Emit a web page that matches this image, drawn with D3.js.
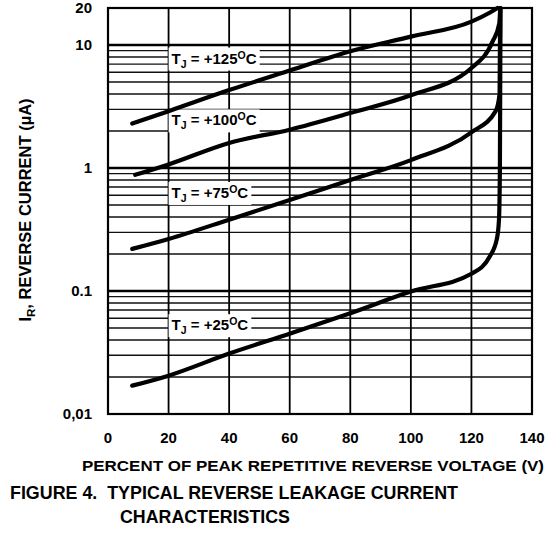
<!DOCTYPE html>
<html>
<head>
<meta charset="utf-8">
<script src="https://cdn.jsdelivr.net/npm/d3@7"></script>
<style>
  body { margin: 0; background: #fff; }
  text { font-family: "Liberation Sans", Arial, sans-serif; font-weight: bold; fill: #000; }
</style>
</head>
<body>
<svg id="chart" width="559" height="533"></svg>
<script>
// x ticks and y ticks
const xTicks = [0, 20, 40, 60, 80, 100, 120, 140];
const yTicks = [0.01, 0.1, 1, 10, 20];
const yTickLabels = ["0,01", "0.1", "1", "10", "20"];

// percent of peak voltage vs reverse current (uA), one pair per junction temperature
const pct125 = [8, 20, 40, 60, 80, 100, 120, 126, 128.6];
const cur125 = [2.3, 2.9, 4.3, 6.2, 8.9, 11.7, 15.5, 18.3, 20];
const pct100 = [9, 20, 40, 60, 80, 100, 120, 127, 129.2, 129.5];
const cur100 = [0.88, 1.07, 1.6, 2.05, 2.8, 3.9, 6.5, 10.7, 15, 20];
const pct75 = [8, 20, 40, 60, 80, 100, 120, 128, 129.3, 129.5];
const cur75 = [0.22, 0.265, 0.38, 0.55, 0.8, 1.16, 1.95, 2.9, 4, 20];
const pct25 = [8, 20, 40, 60, 80, 100, 120, 126, 128.4, 129.1, 129.4, 129.6];
const cur25 = [0.017, 0.0205, 0.031, 0.045, 0.066, 0.099, 0.138, 0.19, 0.265, 0.38, 1, 20];

const labels = ["+125", "+100", "+75", "+25"];
const labelPct = [21, 21, 21, 21];
const labelCur = [7.8, 2.45, 0.63, 0.053];

let svg = d3.select("#chart");
let pLeft = 108, pRight = 532, pTop = 8, pBottom = 414;

let x = d3.scaleLinear().domain([0, 140]).range([pLeft, pRight]);
let y = d3.scaleLog().domain([0.01, 20]).range([pBottom, pTop]);

// log grid: 2..9 in each decade
let minor = [];
[0.01, 0.1, 1, 10].forEach(function(d) {
    for (let k = 2; k <= 9; k++) {
        if (d * k < 20) minor.push(d * k);
    }
});
svg.append("g").selectAll("line").data(minor).enter().append("line")
    .attr("x1", pLeft).attr("x2", pRight)
    .attr("y1", d => y(d)).attr("y2", d => y(d))
    .attr("stroke", "#111").attr("stroke-width", 1.4);

// decade lines a bit heavier
svg.append("g").selectAll("line").data([0.1, 1, 10]).enter().append("line")
    .attr("x1", pLeft).attr("x2", pRight)
    .attr("y1", d => y(d)).attr("y2", d => y(d))
    .attr("stroke", "#000").attr("stroke-width", 2.4);

svg.append("g").selectAll("line").data(xTicks.slice(1, -1)).enter().append("line")
    .attr("x1", d => x(d)).attr("x2", d => x(d))
    .attr("y1", pTop).attr("y2", pBottom)
    .attr("stroke", "#000").attr("stroke-width", 1.8);

svg.append("rect")
    .attr("x", pLeft).attr("y", pTop)
    .attr("width", pRight - pLeft).attr("height", pBottom - pTop)
    .attr("fill", "none").attr("stroke", "#000").attr("stroke-width", 2.2);

// curve labels with white boxes
let lab = svg.append("g").selectAll("g").data(labels).enter().append("g");
lab.each(function(d, i) {
    let g = d3.select(this);
    let t = g.append("text")
        .attr("x", x(labelPct[i])).attr("y", y(labelCur[i]))
        .attr("dy", "0.35em")
        .attr("font-size", 15);
    t.append("tspan").text("T");
    t.append("tspan").attr("font-size", 10.5).attr("dy", 4).text("J");
    t.append("tspan").attr("dy", -4).text(" = " + d);
    t.append("tspan").attr("font-size", 10.5).attr("dy", -5).text("O");
    t.append("tspan").attr("dy", 5).text("C");
    let b = t.node().getBBox();
    g.insert("rect", "text")
        .attr("x", b.x - 3).attr("y", b.y - 1)
        .attr("width", b.width + 6).attr("height", b.height + 2)
        .attr("fill", "#fff");
});

let line = d3.line()
    .x(d => x(d[0])).y(d => y(d[1]))
    .curve(d3.curveMonotoneX);

let series = [[pct125, cur125], [pct100, cur100], [pct75, cur75], [pct25, cur25]];
svg.append("g").selectAll("path").data(series).enter().append("path")
    .attr("d", s => line(s[0].map((v, i) => [v, s[1][i]])))
    .attr("fill", "none").attr("stroke", "#000")
    .attr("stroke-width", 4.2).attr("stroke-linecap", "round");

// tick labels
svg.append("g").selectAll("text").data(xTicks).enter().append("text")
    .attr("x", d => x(d)).attr("y", 443)
    .attr("text-anchor", "middle").attr("font-size", 15)
    .text(d => d);

svg.append("g").selectAll("text").data(yTicks).enter().append("text")
    .attr("x", 92).attr("y", d => y(d)).attr("dy", "0.35em")
    .attr("text-anchor", "end").attr("font-size", 15)
    .text((d, i) => yTickLabels[i]);

// axis titles
let yl = svg.append("text")
    .attr("transform", "translate(31," + 210 + ") rotate(-90)")
    .attr("text-anchor", "middle").attr("font-size", 16.5);
yl.append("tspan").text("I");
yl.append("tspan").attr("font-size", 11.5).attr("dy", 4).text("R");
yl.append("tspan").attr("dy", -4).text(", REVERSE CURRENT (\u00b5A)");

svg.append("text")
    .attr("x", 313).attr("y", 471)
    .attr("text-anchor", "middle").attr("font-size", 15)
    .attr("textLength", 462).attr("lengthAdjust", "spacingAndGlyphs")
    .text("PERCENT OF PEAK REPETITIVE REVERSE VOLTAGE (V)");

svg.append("text")
    .attr("x", 10).attr("y", 499).attr("font-size", 17.5)
    .attr("textLength", 448).attr("lengthAdjust", "spacingAndGlyphs")
    .text("FIGURE 4.\u00a0 TYPICAL REVERSE LEAKAGE CURRENT");
svg.append("text")
    .attr("x", 120).attr("y", 523).attr("font-size", 17.5)
    .attr("textLength", 170).attr("lengthAdjust", "spacingAndGlyphs")
    .text("CHARACTERISTICS");
</script>
</body>
</html>
